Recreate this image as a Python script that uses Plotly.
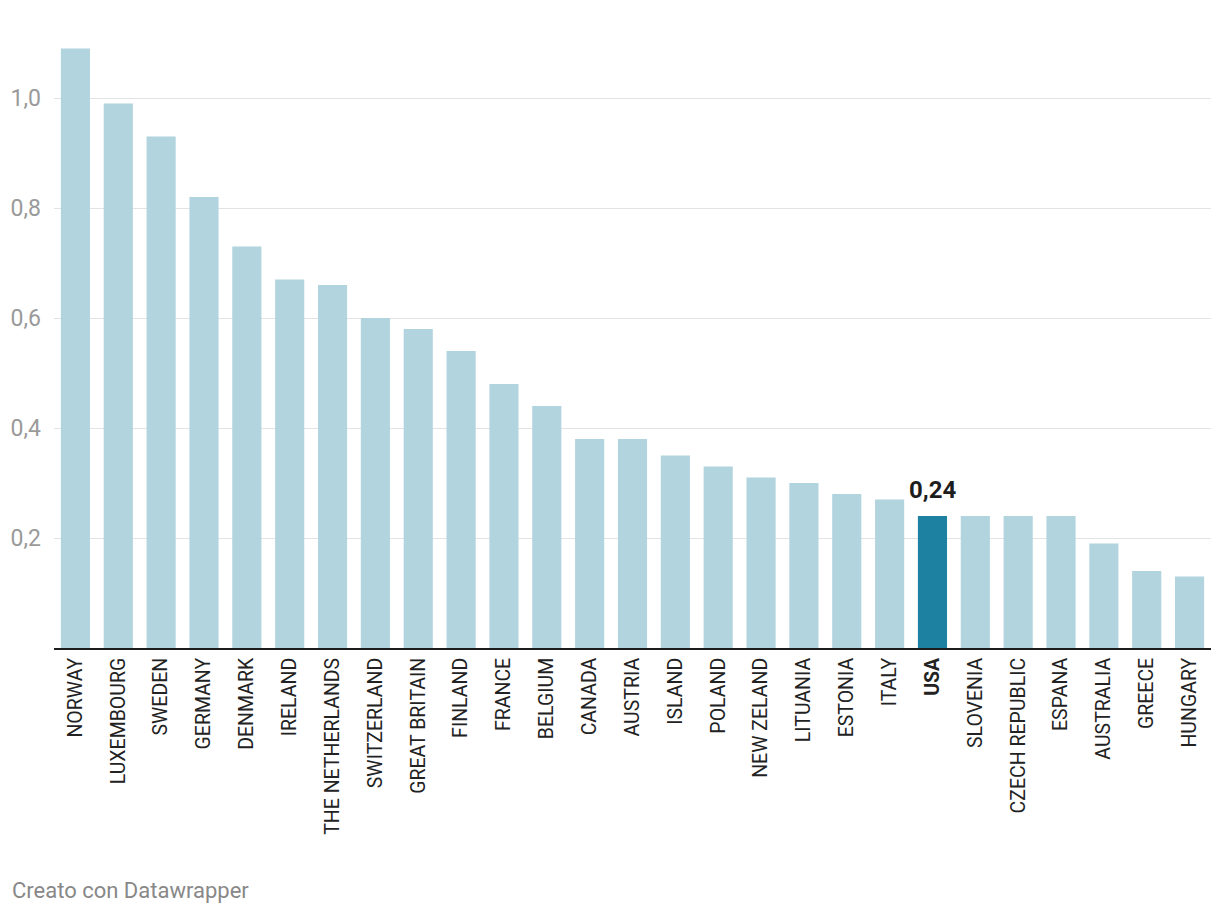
import plotly.graph_objects as go

countries = ["NORWAY", "LUXEMBOURG", "SWEDEN", "GERMANY", "DENMARK", "IRELAND",
             "THE NETHERLANDS", "SWITZERLAND", "GREAT BRITAIN", "FINLAND", "FRANCE",
             "BELGIUM", "CANADA", "AUSTRIA", "ISLAND", "POLAND", "NEW ZELAND",
             "LITUANIA", "ESTONIA", "ITALY", "USA", "SLOVENIA", "CZECH REPUBLIC",
             "ESPANA", "AUSTRALIA", "GREECE", "HUNGARY"]
values = [1.09, 0.99, 0.93, 0.82, 0.73, 0.67, 0.66, 0.60, 0.58, 0.54, 0.48,
          0.44, 0.38, 0.38, 0.35, 0.33, 0.31, 0.30, 0.28, 0.27, 0.24, 0.24, 0.24,
          0.24, 0.19, 0.14, 0.13]
highlight = "USA"
y_ticks = [0.2, 0.4, 0.6, 0.8, 1.0]

colors = ["#1d81a2" if c == highlight else "#b2d4de" for c in countries]
ticktext = [f"<b>{c}</b>" if c == highlight else c for c in countries]
hl_value = values[countries.index(highlight)]

fig = go.Figure(go.Bar(
    x=countries, y=values, marker_color=colors, marker_line_width=0,
    hoverinfo="skip",
))

fig.update_layout(
    width=1220, height=916,
    margin=dict(l=54, r=9, t=43, b=268),
    paper_bgcolor="white", plot_bgcolor="white",
    font=dict(family="Roboto", color="#333333"),
    separators=",.",
    bargap=0.32,
    showlegend=False,
    xaxis=dict(
        tickmode="array", tickvals=countries, ticktext=ticktext,
        tickangle=-90, tickfont=dict(size=19.5, color="#222222"),
        showline=True, linecolor="#1d1d1d", linewidth=2,
        showgrid=False, ticks="", range=[-0.5, len(countries) - 0.5],
    ),
    yaxis=dict(
        range=[0, 1.1], tickvals=y_ticks, tickformat=".1f",
        tickfont=dict(size=23, color="#9a9a9a"),
        showgrid=True, gridcolor="#e3e3e3", gridwidth=1,
        zeroline=False, showline=False, ticks="", ticklabelstandoff=12,
    ),
    annotations=[
        dict(
            text=f"<b>{hl_value:.2f}</b>".replace(".", ","), x=highlight, y=hl_value,
            xref="x", yref="y", yanchor="bottom", yshift=10, showarrow=False,
            font=dict(family="Roboto", size=24, color="#1d1d1d"),
        ),
        dict(
            text="Creato con Datawrapper", xref="paper", yref="paper",
            x=-0.038, y=-0.40, xanchor="left", yanchor="middle", showarrow=False,
            font=dict(family="Roboto", size=22, color="#888888"),
        ),
    ],
)

fig.write_html("out.html", config={"displayModeBar": False},
               post_script="document.body.style.margin='0';")
